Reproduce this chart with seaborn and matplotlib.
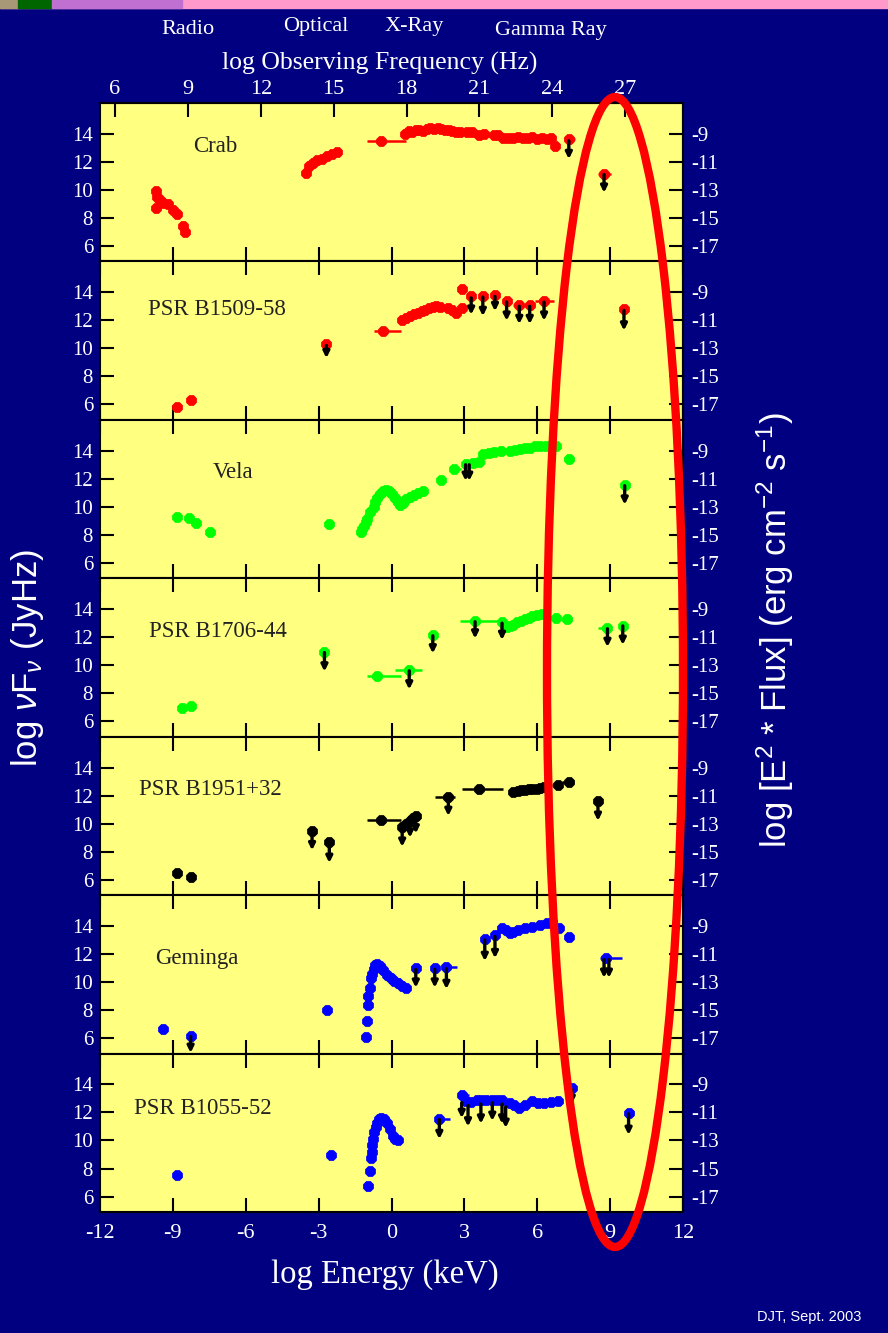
import numpy as np
import matplotlib
matplotlib.use("Agg")
import matplotlib.pyplot as plt
from matplotlib.patches import Ellipse, Rectangle
import seaborn as sns

sns.set_style("ticks")
plt.rcParams['font.family'] = ['Liberation Serif', 'DejaVu Serif']
plt.rcParams['axes.unicode_minus'] = False
plt.rcParams['mathtext.fontset'] = 'custom'
plt.rcParams['mathtext.rm'] = 'Liberation Sans'
plt.rcParams['mathtext.it'] = 'Liberation Sans:italic'

NAVY = '#000080'
YELLOW = '#FFFF80'

# ---------------- data (log E in keV, log nuFnu in Jy Hz) ----------------
names = ['Crab', 'PSR B1509-58', 'Vela', 'PSR B1706-44',
         'PSR B1951+32', 'Geminga', 'PSR B1055-52']
colors = ['#FF0000', '#FF0000', '#00FF00', '#00FF00',
          '#000000', '#0000FF', '#0000FF']

crab_x = [-9.7, -9.65, -9.7, -9.55, -9.4, -9.2, -9.0, -8.85, -8.6, -8.5,
          -3.5, -3.4, -3.25, -3.05, -2.85, -2.65, -2.45, -2.25,
          -0.45, 0.55, 0.7, 0.85, 1.0, 1.15, 1.3, 1.45, 1.6, 1.75, 1.9, 2.05, 2.2, 2.35, 2.5, 2.65, 2.8,
          3.1, 3.3, 3.6, 3.8, 4.2, 4.4,
          4.6, 4.8, 5.0, 5.2, 5.4, 5.6, 5.8, 6.0, 6.2, 6.4, 6.55,
          6.75, 7.3, 8.75]
crab_y = [9.9, 9.5, 8.7, 9.3, 9.1, 9.0, 8.6, 8.3, 7.4, 7.0,
          11.2, 11.7, 11.95, 12.1, 12.2, 12.4, 12.55, 12.7,
          13.5, 14.0, 14.2, 14.1, 14.25, 14.3, 14.2, 14.35, 14.4, 14.35, 14.4, 14.35, 14.3, 14.3, 14.2, 14.15, 14.1,
          14.1, 14.15, 13.95, 14.0, 13.9, 13.95,
          13.7, 13.7, 13.7, 13.75, 13.7, 13.7, 13.75, 13.65, 13.7, 13.65, 13.7,
          13.1, 13.6, 11.15]
crab_bar_y = [13.5, 13.6, 11.15]
crab_bar_lo = [-1.0, 7.1, 8.5]
crab_bar_hi = [0.6, 7.55, 9.05]
crab_ul_x = [7.3, 8.75]
crab_ul_top = [13.5, 11.1]
crab_ul_end = [12.2, 9.8]

b1509_x = [-8.84, -8.27, -2.68, -0.35,
           0.44, 0.6, 0.76, 0.92, 1.08, 1.24, 1.39, 1.55, 1.7, 1.85, 2.0,
           2.33, 2.5, 2.65, 2.89, 2.89,
           3.28, 3.76, 4.26, 4.74, 5.26, 5.69, 6.28, 9.57]
b1509_y = [5.8, 6.3, 10.28, 11.27,
           12.03, 12.2, 12.3, 12.43, 12.55, 12.65, 12.77, 12.85, 12.95, 13.0, 12.95,
           12.9, 12.75, 12.55, 14.2, 12.9,
           13.7, 13.75, 13.8, 13.4, 13.1, 13.1, 13.4, 12.8]
b1509_bar_y = [11.27, 13.4, 13.1]
b1509_bar_lo = [-0.7, 5.9, 5.0]
b1509_bar_hi = [0.41, 6.7, 5.9]
b1509_ul_x = [-2.68, 3.28, 3.76, 4.26, 4.74, 5.26, 5.69, 6.28, 9.57]
b1509_ul_top = [10.2, 13.6, 13.65, 13.7, 13.3, 13.0, 13.0, 13.3, 12.7]
b1509_ul_end = [9.3, 12.4, 12.3, 12.65, 11.97, 11.73, 11.73, 11.97, 11.27]

vela_x = [-8.83, -8.32, -8.05, -7.48, -2.59,
          -1.26, -1.2, -1.14, -1.07, -1.01, -0.88, -0.74, -0.66, -0.58, -0.46, -0.35, -0.23,
          -0.11, 0.01, 0.13, 0.25, 0.36, 0.48, 0.6, 0.76, 0.92, 1.1, 1.31,
          2.02, 2.57, 3.05, 3.35, 3.6, 3.76, 4.0, 4.23, 4.5, 4.86, 5.1, 5.3, 5.5, 5.7, 5.9,
          6.13, 6.35, 6.55, 6.76, 7.31, 9.6]
vela_y = [9.29, 9.17, 8.87, 8.17, 8.8,
          8.17, 8.4, 8.64, 8.9, 9.1, 9.6, 10.0, 10.35, 10.6, 10.9, 11.1, 11.2,
          11.15, 10.9, 10.6, 10.35, 10.15, 10.3, 10.55, 10.7, 10.85, 10.95, 11.1,
          11.9, 12.7, 13.07, 13.15, 13.2, 13.77, 13.85, 13.9, 13.95, 14.0, 14.05, 14.1, 14.2, 14.22, 14.3,
          14.35, 14.37, 14.4, 14.35, 13.4, 11.55]
vela_bar_y = [12.7, 13.2, 13.4]
vela_bar_lo = [2.35, 3.4, 7.1]
vela_bar_hi = [2.85, 3.85, 7.5]
vela_ul_x = [3.05, 3.2, 9.6]
vela_ul_top = [13.0, 13.0, 11.5]
vela_ul_end = [11.85, 11.85, 10.15]

b1706_x = [-8.64, -8.24, -2.76, -0.58, 0.73, 1.7, 3.44, 4.55,
           4.75, 4.86, 5.0, 5.15, 5.34, 5.5, 5.65, 5.8, 6.0, 6.2,
           6.76, 7.23, 8.89, 9.52]
b1706_y = [6.94, 7.1, 10.96, 9.2, 9.63, 12.17, 13.18, 13.06,
           12.7, 12.78, 12.9, 13.05, 13.18, 13.3, 13.4, 13.48, 13.55, 13.65,
           13.35, 13.3, 12.64, 12.83]
b1706_bar_y = [9.2, 9.63, 13.18, 12.64, 13.3]
b1706_bar_lo = [-1.01, 0.13, 2.8, 8.5, 7.0]
b1706_bar_hi = [0.41, 1.25, 4.55, 9.0, 7.45]
b1706_ul_x = [-2.76, 0.73, 1.7, 3.44, 4.55, 8.89, 9.52]
b1706_ul_top = [10.9, 9.6, 12.1, 13.1, 13.0, 12.6, 12.8]
b1706_ul_end = [9.55, 8.27, 10.84, 11.9, 11.8, 11.3, 11.45]

b1951_x = [-8.83, -8.24, -3.27, -2.56, -0.43,
           0.44, 0.6, 0.76, 0.9, 1.0, 2.34, 3.6,
           5.02, 5.2, 5.35, 5.5, 5.65, 5.8, 5.97, 6.12, 6.28,
           6.84, 7.31, 8.5]
b1951_y = [6.51, 6.21, 9.5, 8.7, 10.27,
           9.74, 10.0, 10.2, 10.4, 10.54, 11.93, 12.46,
           12.27, 12.35, 12.38, 12.4, 12.45, 12.48, 12.5, 12.55, 12.6,
           12.73, 12.96, 11.58]
b1951_bar_y = [10.27, 11.93, 12.46, 12.96, 12.73]
b1951_bar_lo = [-1.0, 1.8, 2.9, 7.0, 6.6]
b1951_bar_hi = [0.41, 2.6, 4.6, 7.5, 7.0]
b1951_ul_x = [-3.27, -2.56, 0.44, 0.76, 1.0, 2.34, 8.5]
b1951_ul_top = [9.4, 8.6, 9.7, 10.1, 10.5, 11.9, 11.5]
b1951_ul_end = [8.1, 7.2, 8.35, 9.0, 9.3, 10.55, 10.2]

geminga_x = [-9.39, -8.27, -2.64,
             -1.06, -1.01, -0.98, -0.95, -0.9, -0.85, -0.8, -0.74, -0.66, -0.58, -0.47, -0.35,
             -0.2, -0.03, 0.12, 0.28, 0.45, 0.6,
             1.0, 1.78, 2.26, 3.84, 4.26,
             4.55, 4.7, 4.86, 5.0, 5.2, 5.5, 5.8, 6.13, 6.4, 6.6, 6.88,
             7.31, 8.81]
geminga_y = [6.63, 6.16, 8.03,
             6.05, 7.22, 8.39, 9.0, 9.56, 10.26, 10.6, 10.96, 11.2, 11.3, 11.15, 10.84,
             10.5, 10.26, 10.05, 9.9, 9.72, 9.55,
             11.0, 11.0, 11.07, 13.1, 13.35,
             13.88, 13.7, 13.53, 13.6, 13.7, 13.88, 13.95, 14.1, 14.2, 14.3, 13.88,
             13.18, 11.7]
geminga_bar_y = [11.07, 11.7]
geminga_bar_lo = [2.1, 8.6]
geminga_bar_hi = [2.7, 9.5]
geminga_ul_x = [-8.27, 1.0, 1.78, 2.26, 3.84, 4.26, 8.75, 8.95]
geminga_ul_top = [6.1, 10.9, 10.9, 10.95, 13.0, 13.25, 11.6, 11.6]
geminga_ul_end = [4.95, 9.6, 9.6, 9.5, 11.5, 11.7, 10.3, 10.3]

b1055_x = [-8.83, -2.48,
           -0.95, -0.9, -0.85, -0.82, -0.79, -0.75, -0.7, -0.64, -0.58, -0.5, -0.43, -0.3,
           -0.19, -0.08, 0.05, 0.16, 0.28, 1.97,
           2.89, 3.05, 3.28, 3.5, 3.68, 3.9, 4.15, 4.35, 4.55, 4.86, 5.05, 5.26, 5.5, 5.8,
           6.05, 6.28, 6.55, 6.84, 7.42, 9.76]
b1055_y = [7.51, 9.0,
           6.74, 7.79, 8.72, 9.2, 9.65, 10.1, 10.58, 10.95, 11.28, 11.5, 11.63, 11.55,
           11.28, 10.8, 10.35, 10.1, 10.0, 11.56,
           13.26, 12.8, 12.72, 12.9, 12.9, 12.9, 12.9, 12.9, 12.9, 12.67, 12.5, 12.33, 12.55, 12.8,
           12.7, 12.67, 12.75, 12.8, 13.72, 11.98]
b1055_bar_y = [11.56, 13.26]
b1055_bar_lo = [1.9, 2.8]
b1055_bar_hi = [2.4, 3.2]
b1055_ul_x = [1.97, 2.89, 3.15, 3.68, 4.15, 4.55, 4.7, 7.42, 9.76]
b1055_ul_top = [11.5, 12.7, 12.5, 12.6, 12.7, 12.6, 12.4, 13.6, 11.9]
b1055_ul_end = [10.1, 11.6, 11.0, 11.2, 11.4, 11.2, 10.9, 12.6, 10.4]

freq_ticks = [6, 9, 12, 15, 18, 21, 24, 27]
energy_ticks = [-12, -9, -6, -3, 0, 3, 6, 9, 12]
left_ticks = [6, 8, 10, 12, 14]
right_ticks = [-17, -15, -13, -11, -9]

panels = [
    (crab_x, crab_y, crab_bar_y, crab_bar_lo, crab_bar_hi, crab_ul_x, crab_ul_top, crab_ul_end),
    (b1509_x, b1509_y, b1509_bar_y, b1509_bar_lo, b1509_bar_hi, b1509_ul_x, b1509_ul_top, b1509_ul_end),
    (vela_x, vela_y, vela_bar_y, vela_bar_lo, vela_bar_hi, vela_ul_x, vela_ul_top, vela_ul_end),
    (b1706_x, b1706_y, b1706_bar_y, b1706_bar_lo, b1706_bar_hi, b1706_ul_x, b1706_ul_top, b1706_ul_end),
    (b1951_x, b1951_y, b1951_bar_y, b1951_bar_lo, b1951_bar_hi, b1951_ul_x, b1951_ul_top, b1951_ul_end),
    (geminga_x, geminga_y, geminga_bar_y, geminga_bar_lo, geminga_bar_hi, geminga_ul_x, geminga_ul_top, geminga_ul_end),
    (b1055_x, b1055_y, b1055_bar_y, b1055_bar_lo, b1055_bar_hi, b1055_ul_x, b1055_ul_top, b1055_ul_end),
]
label_pos = [(0.197, 0.725), (0.200, 0.696), (0.228, 0.67), (0.203, 0.665),
             (0.189, 0.665), (0.166, 0.60), (0.177, 0.654)]

# ---------------- figure ----------------
W, H = 888, 1333
fig, axes = plt.subplots(7, 1, figsize=(W / 100, H / 100), dpi=100, sharex=True)
fig.patch.set_facecolor(NAVY)
fig.subplots_adjust(left=100 / W, right=683 / W, top=1 - 103 / H, bottom=1 - 1212 / H, hspace=0)

tick_kw = dict(direction='in', length=10, width=1.5, color='black', labelcolor='white')

for i, ax in enumerate(axes):
    px, py, by, blo, bhi, ux, utop, uend = panels[i]
    c = colors[i]
    ax.set_facecolor(YELLOW)
    ax.hlines(by, blo, bhi, color=c, lw=1.8, zorder=2)
    sns.scatterplot(x=px, y=py, color=c, s=70, marker='8', linewidth=0, ax=ax, zorder=3,
                    legend=False)
    for x0, y0, y1 in zip(ux, utop, uend):
        ax.annotate('', xy=(x0, y1), xytext=(x0, y0),
                    arrowprops=dict(arrowstyle='-|>', color='black', lw=2.4,
                                    mutation_scale=9, shrinkA=0, shrinkB=0), zorder=4)
    ax.text(label_pos[i][0], label_pos[i][1], names[i], transform=ax.transAxes,
            ha='center', va='center', fontsize=16.5, color='#222222')

    ax.set_xlim(-12, 12)
    ax.set_ylim(4.9, 16.2)
    ax.set_xticks(energy_ticks)
    ax.set_yticks(left_ticks)
    ax.set_xlabel('')
    ax.set_ylabel('')
    ax.tick_params(axis='y', left=True, right=False, labelsize=15, pad=5, **tick_kw)
    ax.tick_params(axis='x', bottom=True, top=(i > 0), labelbottom=(i == 6),
                   labelsize=16, pad=9, **tick_kw)
    for sp in ax.spines.values():
        sp.set_color('black')
        sp.set_linewidth(1.5)

    sec = ax.secondary_yaxis('right', functions=(lambda y: y - 23, lambda y: y + 23))
    sec.set_yticks(right_ticks)
    sec.tick_params(labelsize=15, pad=6, **tick_kw)
    sec.spines['right'].set_color('black')
    sec.spines['right'].set_linewidth(1.5)

top = axes[0].secondary_xaxis('top', functions=(lambda e: e + 17.38, lambda f: f - 17.38))
top.set_xticks(freq_ticks)
top.tick_params(labelsize=16, pad=3, **tick_kw)
top.spines['top'].set_color('black')
top.spines['top'].set_linewidth(1.5)

# ---------------- texts ----------------
def ftext(x, y, s, **kw):
    fig.text(x / W, 1 - y / H, s, color='white', ha='center', va='center', **kw)

ftext(188, 30, 'Radio', fontsize=16)
ftext(316, 27, 'Optical', fontsize=16)
ftext(414, 27, 'X-Ray', fontsize=16)
ftext(551, 30, 'Gamma Ray', fontsize=16)
ftext(380, 63, 'log Observing Frequency (Hz)', fontsize=18.5)
ftext(385, 1275, 'log Energy (keV)', fontsize=23.5)
ftext(28, 658, r'log $\nu$F$_\nu$ (JyHz)', fontsize=25, rotation=90, family='Liberation Sans')
ftext(775, 630, r'log [E$^2$ * Flux] (erg cm$^{-2}$ s$^{-1}$)', fontsize=25, rotation=90,
      family='Liberation Sans')
ftext(809, 1317, 'DJT, Sept. 2003', fontsize=10.5, family='Liberation Sans')

# pink strip at the very top
fig.add_artist(Rectangle((0, 1 - 8 / H), 1, 8 / H, transform=fig.transFigure,
                         color='#FF99CC', zorder=0))
fig.add_artist(Rectangle((0, 1 - 8 / H), 18 / W, 8 / H, transform=fig.transFigure,
                         color='#A89878', zorder=1))
fig.add_artist(Rectangle((18 / W, 1 - 8 / H), 34 / W, 8 / H, transform=fig.transFigure,
                         color='#006600', zorder=1))
fig.add_artist(Rectangle((52 / W, 1 - 8 / H), 130 / W, 8 / H, transform=fig.transFigure,
                         color='#C070D0', zorder=1))

# red ellipse
fig.add_artist(Ellipse((615 / W, 1 - 672 / H), 136 / W, 1150 / H, transform=fig.transFigure,
                       fill=False, edgecolor='#FF0000', lw=6, zorder=20))

fig.savefig('out.png', dpi=100, facecolor=NAVY)
